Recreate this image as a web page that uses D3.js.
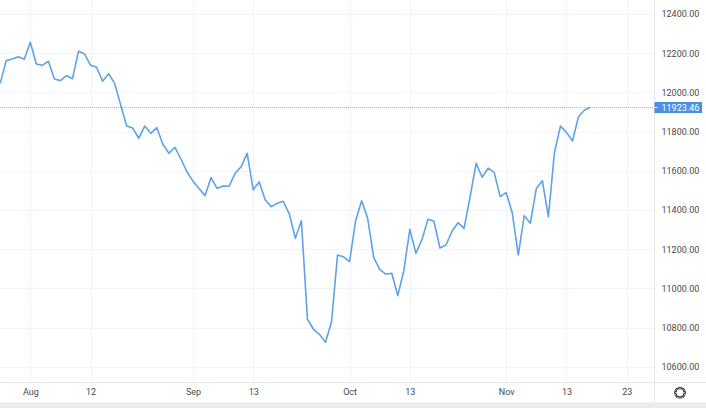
<!DOCTYPE html>
<html><head><meta charset="utf-8">
<script src="https://cdn.jsdelivr.net/npm/d3@7"></script>
<style>html,body{margin:0;padding:0;background:#fff;overflow:hidden}svg{display:block;font-family:Roboto,"Open Sans",sans-serif}</style>
</head><body>
<svg id="c" width="706" height="408"></svg>
<script>
const values = [12046,12162,12170,12182,12169,12256,12145,12138,12159,12068,
12060,12085,12070,12210,12196,12138,12128,12057,12095,12046,
11936,11828,11818,11766,11828,11791,11820,11735,11689,11720,
11660,11595,11547,11509,11473,11565,11510,11522,11521,11587,
11621,11689,11503,11543,11451,11417,11434,11444,11379,11255,
11345,10842,10791,10765,10725,10828,11170,11161,11136,11345,
11447,11357,11158,11097,11072,11077,10963,11090,11301,11179,
11247,11352,11342,11206,11221,11291,11335,11306,11465,11638,
11567,11613,11592,11468,11488,11386,11170,11371,11332,11510,
11549,11365,11692,11828,11796,11752,11876,11910,11923.46];
const xTickLabels = ["Aug","12","Sep","13","Oct","13","Nov","13","23"];
const xTickIndex = [5,15,32,42,58,68,84,94,104];
const yTicks = [10600,10800,11000,11200,11400,11600,11800,12000,12200,12400];
const lastPrice = 11923.46;

const svg = d3.select("#c");
const W = 706, H = 408, plotR = 654.5, plotB = 382.5;
const x = d3.scaleLinear().domain([0,104]).range([0.2, 626.7]);
const y = d3.scaleLinear().domain([10600,12400]).range([366.7, 14]);

// grid
const grid = svg.append("g");
grid.selectAll("line.h").data(yTicks).enter().append("line")
  .attr("x1",0).attr("x2",plotR).attr("y1",d=>Math.round(y(d))+0.5).attr("y2",d=>Math.round(y(d))+0.5)
  .attr("stroke","#f0f3fa").attr("stroke-width",1);
grid.selectAll("line.v").data(xTickIndex).enter().append("line")
  .attr("y1",0).attr("y2",plotB).attr("x1",d=>Math.round(x(d))+0.5).attr("x2",d=>Math.round(x(d))+0.5)
  .attr("stroke","#f0f3fa").attr("stroke-width",1);

// borders
svg.append("line").attr("x1",0).attr("x2",W).attr("y1",plotB).attr("y2",plotB).attr("stroke","#e6e6e6");
svg.append("line").attr("x1",plotR).attr("x2",plotR).attr("y1",0).attr("y2",402).attr("stroke","#e6e6e6");
svg.append("rect").attr("x",0).attr("y",402.5).attr("width",W).attr("height",6).attr("fill","#ececec");

// last price dotted line
const ly = Math.round(y(lastPrice)) + 0.5;
svg.append("line").attr("x1",0).attr("x2",plotR).attr("y1",ly).attr("y2",ly)
  .attr("stroke","#8cbcf0").attr("stroke-width",1).attr("stroke-dasharray","1,1");

// series line
const line = d3.line().x((d,i)=>x(i)).y(d=>y(d));
svg.append("path").datum(values).attr("d",line).attr("fill","none")
  .attr("stroke","#5ea2e8").attr("stroke-width",1.6).attr("stroke-linejoin","round");

// y axis labels
const yAxis = d3.axisRight(y).tickValues(yTicks).tickFormat(d3.format(".2f")).tickSize(0).tickPadding(7);
const ya = svg.append("g").attr("transform",`translate(${plotR},0)`).call(yAxis);
ya.select(".domain").remove();
ya.selectAll("text").attr("fill","#4a4a4a").style("font-size","9px").style("font-family","Roboto,sans-serif");

// last price badge
svg.append("rect").attr("x",plotR).attr("y",ly-5.5).attr("width",47.5).attr("height",11).attr("fill","#4a90e2");
svg.append("line").attr("x1",plotR).attr("x2",plotR+3).attr("y1",ly).attr("y2",ly).attr("stroke","#fff");
svg.append("text").attr("x",plotR+7).attr("y",ly).attr("dy","0.35em").attr("fill","#fff")
  .style("font-size","9px").text(d3.format(".2f")(lastPrice));

// x axis labels
const xa = svg.append("g").attr("transform",`translate(0,${plotB})`)
  .call(d3.axisBottom(x).tickValues(xTickIndex).tickFormat((d,i)=>xTickLabels[i]).tickSize(0).tickPadding(6));
xa.select(".domain").remove();
xa.selectAll("text").attr("fill","#4a4a4a").style("font-size","9px").style("font-family","Roboto,sans-serif");

// gear icon
const gx = 680, gy = 392.7;
const gear = svg.append("g").attr("transform",`translate(${gx},${gy})`);
const pts = [];
for (let k=0;k<8;k++){
  const a0 = k*Math.PI/4 - 0.22, a1 = k*Math.PI/4 + 0.22;
  const a2 = (k+0.5)*Math.PI/4 - 0.18, a3 = (k+0.5)*Math.PI/4 + 0.18;
  pts.push([5.4*Math.cos(a0),5.4*Math.sin(a0)],[5.4*Math.cos(a1),5.4*Math.sin(a1)],
           [4.0*Math.cos(a2),4.0*Math.sin(a2)],[4.0*Math.cos(a3),4.0*Math.sin(a3)]);
}
gear.append("path").attr("d","M"+pts.map(p=>p.join(",")).join("L")+"Z")
  .attr("fill","none").attr("stroke","#3a3a3a").attr("stroke-width",1.1);
</script>
</body></html>
